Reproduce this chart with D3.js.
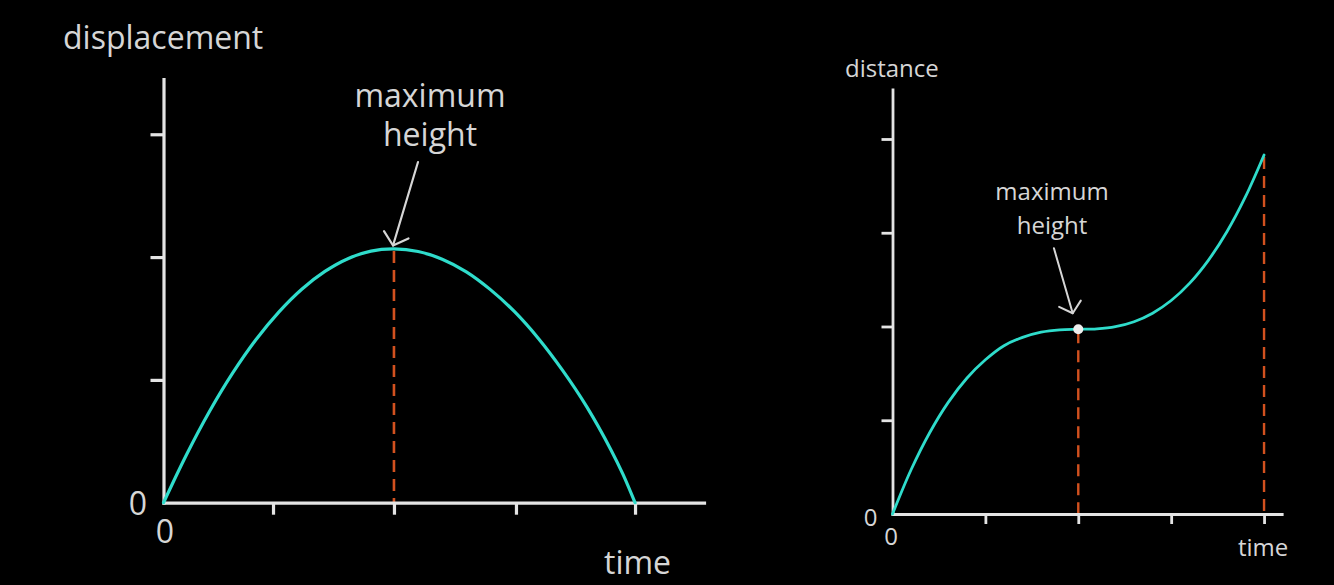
<!DOCTYPE html>
<html><head><meta charset="utf-8">
<script src="https://cdn.jsdelivr.net/npm/d3@7"></script>
<style>html,body{margin:0;padding:0;background:#000;overflow:hidden}svg{display:block}</style>
</head><body><svg id="c" width="1334" height="585"></svg>
<script>
// ---------- Left chart: displacement vs time ----------
const leftTime = [0, 0.196, 0.391, 0.586, 0.782, 0.978, 1.173, 1.369, 1.564, 1.760, 1.955, 2.160, 2.364, 2.569, 2.773, 2.978, 3.182, 3.387, 3.591, 3.796, 3.898, 4.0];
const leftDisp = [0, 0.393, 0.745, 1.055, 1.325, 1.552, 1.738, 1.883, 1.987, 2.049, 2.066, 2.045, 1.983, 1.880, 1.735, 1.555, 1.335, 1.075, 0.780, 0.430, 0.230, 0];
const leftXTicks = [0.929, 1.955, 2.99, 4.0];
const leftYTicks = [1, 2, 3];
const leftPeakTime = 1.955, leftPeakDisp = 2.066;
const leftArrow = {from: [2.159, 2.774], to: [1.947, 2.094]};
const leftLabels = {y: "displacement", x: "time", note: ["maximum", "height"], zero: "0"};

// ---------- Right chart: distance vs time ----------
const rightTime = [0, 0.2, 0.4, 0.6, 0.8, 1.0, 1.2, 1.4, 1.6, 1.8, 2.0, 2.2, 2.4, 2.6, 2.8, 3.0, 3.2, 3.4, 3.6, 3.8, 4.0];
const rightDist = [0, 0.472, 0.867, 1.191, 1.448, 1.645, 1.795, 1.884, 1.940, 1.965, 1.970, 1.975, 1.998, 2.051, 2.142, 2.277, 2.463, 2.706, 3.011, 3.385, 3.83];
const rightXTicks = [1, 2, 3, 4];
const rightYTicks = [1, 2, 3, 4];
const rightMarkTime = 2, rightMarkDist = 1.97;
const rightDashTimes = [2, 4];
const rightDashTops = [1.97, 3.83];
const rightArrow = {from: [1.738, 2.834], to: [1.94, 2.141]};
const rightLabels = {y: "distance", x: "time", note: ["maximum", "height"], zero: "0"};

const AXIS = "#e4e4e4", TEXT = "#d6d6d6", CURVE = "#2fdccb", DASH = "#d2511f";
const FONT = "'Open Sans', 'DejaVu Sans', sans-serif";

const svg = d3.select("#c");
svg.append("rect").attr("width", 1334).attr("height", 585).attr("fill", "#000");

function arrowHead(g, x1, y1, x2, y2, len, ang, sw) {
  const a = Math.atan2(y1 - y2, x1 - x2);
  const p1 = [x2 + len * Math.cos(a + ang), y2 + len * Math.sin(a + ang)];
  const p2 = [x2 + len * Math.cos(a - ang), y2 + len * Math.sin(a - ang)];
  g.append("line").attr("x1", x1).attr("y1", y1).attr("x2", x2).attr("y2", y2)
    .attr("stroke", TEXT).attr("stroke-width", sw).attr("stroke-linecap", "round");
  g.append("path").attr("d", `M${p1[0]},${p1[1]}L${x2},${y2}L${p2[0]},${p2[1]}`)
    .attr("fill", "none").attr("stroke", TEXT).attr("stroke-width", sw)
    .attr("stroke-linecap", "round").attr("stroke-linejoin", "round");
}

function drawChart(cfg) {
  const g = svg.append("g");
  const x = d3.scaleLinear().domain(cfg.xDomain).range(cfg.xRange);
  const y = d3.scaleLinear().domain(cfg.yDomain).range(cfg.yRange);
  const x0 = x(0), y0 = y(0);

  cfg.dashes.forEach(d => {
    g.append("line").attr("x1", x(d.t)).attr("x2", x(d.t))
      .attr("y1", y(d.h) + 2).attr("y2", y0)
      .attr("stroke", DASH).attr("stroke-width", cfg.dashW)
      .attr("stroke-dasharray", cfg.dashArr);
  });

  const xa = g.append("g").attr("transform", `translate(0,${y0})`)
    .call(d3.axisBottom(x).tickValues(cfg.xTicks).tickSize(cfg.xTickLen).tickSizeOuter(0).tickFormat(""));
  const ya = g.append("g").attr("transform", `translate(${x0},0)`)
    .call(d3.axisLeft(y).tickValues(cfg.yTicks).tickSize(cfg.yTickLen).tickSizeOuter(0).tickFormat(""));
  [xa, ya].forEach(a => {
    a.select(".domain").attr("stroke", AXIS).attr("stroke-width", cfg.axisW).attr("stroke-linecap", "square");
    a.selectAll(".tick line").attr("stroke", AXIS).attr("stroke-width", cfg.axisW);
  });

  const line = d3.line().x((d, i) => x(cfg.tData[i])).y((d, i) => y(cfg.vData[i])).curve(d3.curveCatmullRom.alpha(0.5));
  g.append("path").datum(cfg.vData).attr("d", line)
    .attr("fill", "none").attr("stroke", CURVE).attr("stroke-width", cfg.curveW)
    .attr("stroke-linecap", "round");

  if (cfg.dot) {
    g.append("circle").attr("cx", x(cfg.dot[0])).attr("cy", y(cfg.dot[1])).attr("r", cfg.dotR)
      .attr("fill", "#eeeeee");
  }

  arrowHead(g, x(cfg.arrow.from[0]), y(cfg.arrow.from[1]), x(cfg.arrow.to[0]), y(cfg.arrow.to[1]), cfg.headLen, 0.85, cfg.arrowW);

  const t = (s, px, py, fs, anchor) => g.append("text").text(s).attr("x", px).attr("y", py)
    .attr("font-family", FONT).attr("font-size", fs).attr("fill", TEXT).attr("text-anchor", anchor || "start");
  t(cfg.labels.y, cfg.yLabelPos[0], cfg.yLabelPos[1], cfg.fs);
  t(cfg.labels.x, cfg.xLabelPos[0], cfg.xLabelPos[1], cfg.fs);
  t(cfg.labels.zero, x0 + cfg.zeroLeft[0], y0 + cfg.zeroLeft[1], cfg.fs, "middle");
  t(cfg.labels.zero, x0 + cfg.zeroBelow[0], y0 + cfg.zeroBelow[1], cfg.fs, "middle");
  t(cfg.labels.note[0], cfg.notePos[0], cfg.notePos[1], cfg.fs, "middle");
  t(cfg.labels.note[1], cfg.notePos[0], cfg.notePos[1] + cfg.noteLH, cfg.fs, "middle");
}

drawChart({
  xDomain: [0, 4.585], xRange: [163.5, 704],
  yDomain: [0, 3.45], yRange: [502.7, 79],
  tData: leftTime, vData: leftDisp,
  xTicks: leftXTicks, yTicks: leftYTicks,
  xTickLen: 12, yTickLen: 13, axisW: 3.2, curveW: 3.2,
  dashes: [{t: leftPeakTime, h: leftPeakDisp}], dashW: 2.6, dashArr: "12,7",
  dot: null,
  arrow: leftArrow, headLen: 17, arrowW: 2.2,
  labels: leftLabels, fs: 32,
  yLabelPos: [63, 49], xLabelPos: [604, 574],
  zeroLeft: [-25.5, 12.5], zeroBelow: [1.5, 40.5],
  notePos: [430, 107], noteLH: 39
});

drawChart({
  xDomain: [0, 4.19], xRange: [892.5, 1281.7],
  yDomain: [0, 4.53], yRange: [514, 89.3],
  tData: rightTime, vData: rightDist,
  xTicks: rightXTicks, yTicks: rightYTicks,
  xTickLen: 10, yTickLen: 11, axisW: 2.8, curveW: 2.8,
  dashes: rightDashTimes.map((tt, i) => ({t: tt, h: rightDashTops[i]})), dashW: 2.4, dashArr: "12,7",
  dot: [rightMarkTime, rightMarkDist], dotR: 5,
  arrow: rightArrow, headLen: 15, arrowW: 2,
  labels: rightLabels, fs: 24,
  yLabelPos: [845, 77], xLabelPos: [1238, 556],
  zeroLeft: [-22, 11.5], zeroBelow: [-1.5, 31],
  notePos: [1052, 200], noteLH: 34
});
</script></body></html>
